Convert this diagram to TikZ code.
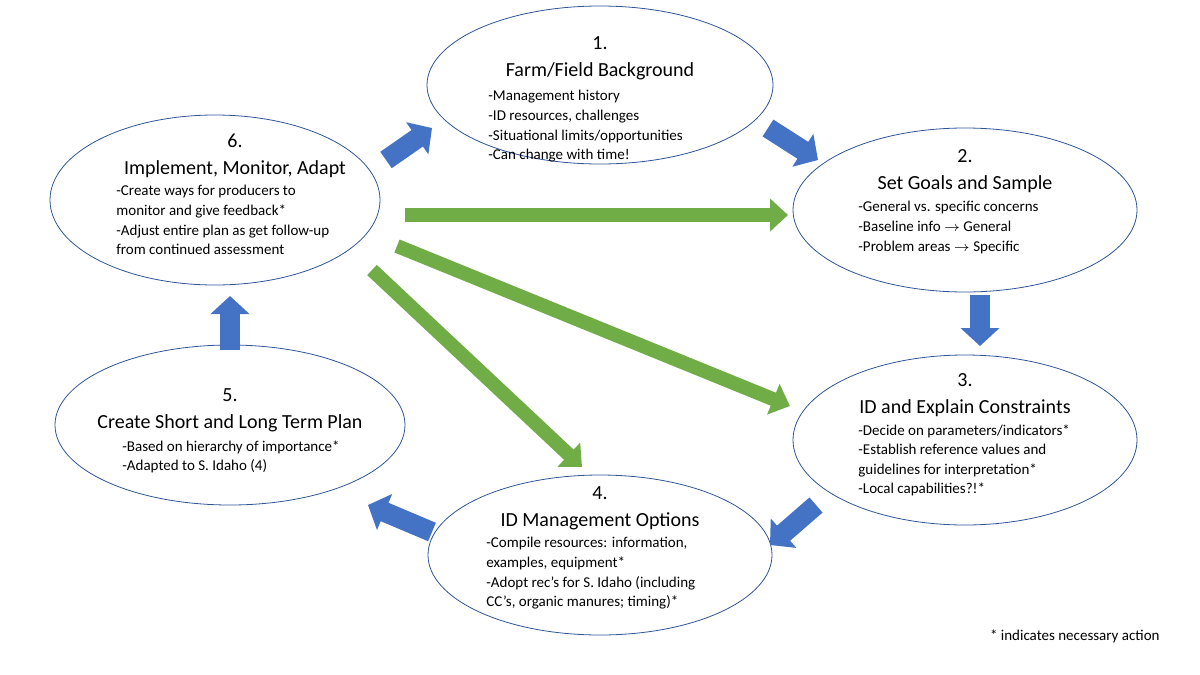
\documentclass[tikz,border=0pt]{standalone}
\usepackage{fontspec}
\setmainfont{Carlito}
\usepackage{tikz}
\usetikzlibrary{shapes.geometric,arrows.meta}
\definecolor{rim}{HTML}{2F5597}
\definecolor{bluearrow}{HTML}{4472C4}
\definecolor{greenarrow}{HTML}{70AD47}

\begin{document}
\begin{tikzpicture}[
        x=0.5pt, y=-0.5pt,
        stage/.style={
            ellipse,
            draw=rim,
            fill=white,
            inner sep=0pt
        },
        head/.style={
            align=center,
            anchor=north,
            inner sep=0pt,
            font=\fontsize{10}{13.5}\selectfont
        },
        items/.style={
            align=left,
            anchor=north west,
            inner sep=0pt,
            font=\fontsize{7.5}{9.8}\selectfont
        },
        nextstep/.style={
            -{Triangle[length=9pt,width=19pt]},
            line width=10pt,
            color=bluearrow
        },
        jump/.style={
            -{Triangle[length=9pt,width=16pt]},
            line width=7pt,
            color=greenarrow
        }
    ]
        \useasboundingbox (0,0) rectangle (1200,675);

        % the six stages
        \node (farm) [stage, minimum width=173pt, minimum height=79pt] at (600,85) {};
        \node (goals) [stage, minimum width=172pt, minimum height=82pt] at (965,210) {};
        \node (constr) [stage, minimum width=172pt, minimum height=85pt] at (965,440) {};
        \node (options) [stage, minimum width=172pt, minimum height=80pt] at (600,555) {};
        \node (plan) [stage, minimum width=175pt, minimum height=80pt] at (230,425) {};
        \node (adapt) [stage, minimum width=165pt, minimum height=85pt] at (215,200) {};

        \node (farmT) [head] at (600,36) {1.\\Farm/Field Background};
        \node (farmL) [items] at (488,90) {-Management history\\-ID resources, challenges\\-Situational limits/opportunities\\-Can change with time!};

        \node (goalsT) [head] at (965,149) {2.\\Set Goals and Sample};
        \node (goalsL) [items] at (858,201) {-General vs. specific concerns\\-Baseline info $\rightarrow$ General\\-Problem areas $\rightarrow$ Specific};

        \node (constrT) [head] at (965,373) {3.\\ID and Explain Constraints};
        \node (constrL) [items] at (858,424) {-Decide on parameters/indicators*\\-Establish reference values and\\guidelines for interpretation*\\-Local capabilities?!*};

        \node (optionsT) [head] at (600,486) {4.\\ID Management Options};
        \node (optionsL) [items] at (486,537) {-Compile resources: information,\\examples, equipment*\\-Adopt rec's for S. Idaho (including\\CC's, organic manures; timing)*};

        \node (planT) [head] at (230,388) {5.\\Create Short and Long Term Plan};
        \node (planL) [items] at (122,440) {-Based on hierarchy of importance*\\-Adapted to S. Idaho (4)};

        \node (adaptT) [head] at (235,134) {6.\\Implement, Monitor, Adapt};
        \node (adaptL) [items] at (116,185) {-Create ways for producers to\\monitor and give feedback*\\-Adjust entire plan as get follow-up\\from continued assessment};

        \node (note) [items, anchor=east] at (1160,636) {* indicates necessary action};

        % arrow ends
        \coordinate (a1) at (386,160); \coordinate (b1) at (432,128);
        \coordinate (a2) at (768,128); \coordinate (b2) at (818,160);
        \coordinate (a3) at (980,295); \coordinate (b3) at (980,346);
        \coordinate (a4) at (816,505); \coordinate (b4) at (770,545);
        \coordinate (a5) at (432,532); \coordinate (b5) at (368,505);
        \coordinate (a6) at (230,350); \coordinate (b6) at (230,296);
        \coordinate (g1) at (405,215); \coordinate (h1) at (788,215);
        \coordinate (g2) at (397,246); \coordinate (h2) at (790,406);
        \coordinate (g3) at (372,270); \coordinate (h3) at (582,467);

        \draw[nextstep] (a1) -- (b1);
        \draw[nextstep] (a2) -- (b2);
        \draw[nextstep] (a3) -- (b3);
        \draw[nextstep] (a4) -- (b4);
        \draw[nextstep] (a5) -- (b5);
        \draw[nextstep] (a6) -- (b6);

        \draw[jump] (g1) -- (h1);
        \draw[jump] (g2) -- (h2);
        \draw[jump] (g3) -- (h3);
    \end{tikzpicture}
\end{document}
